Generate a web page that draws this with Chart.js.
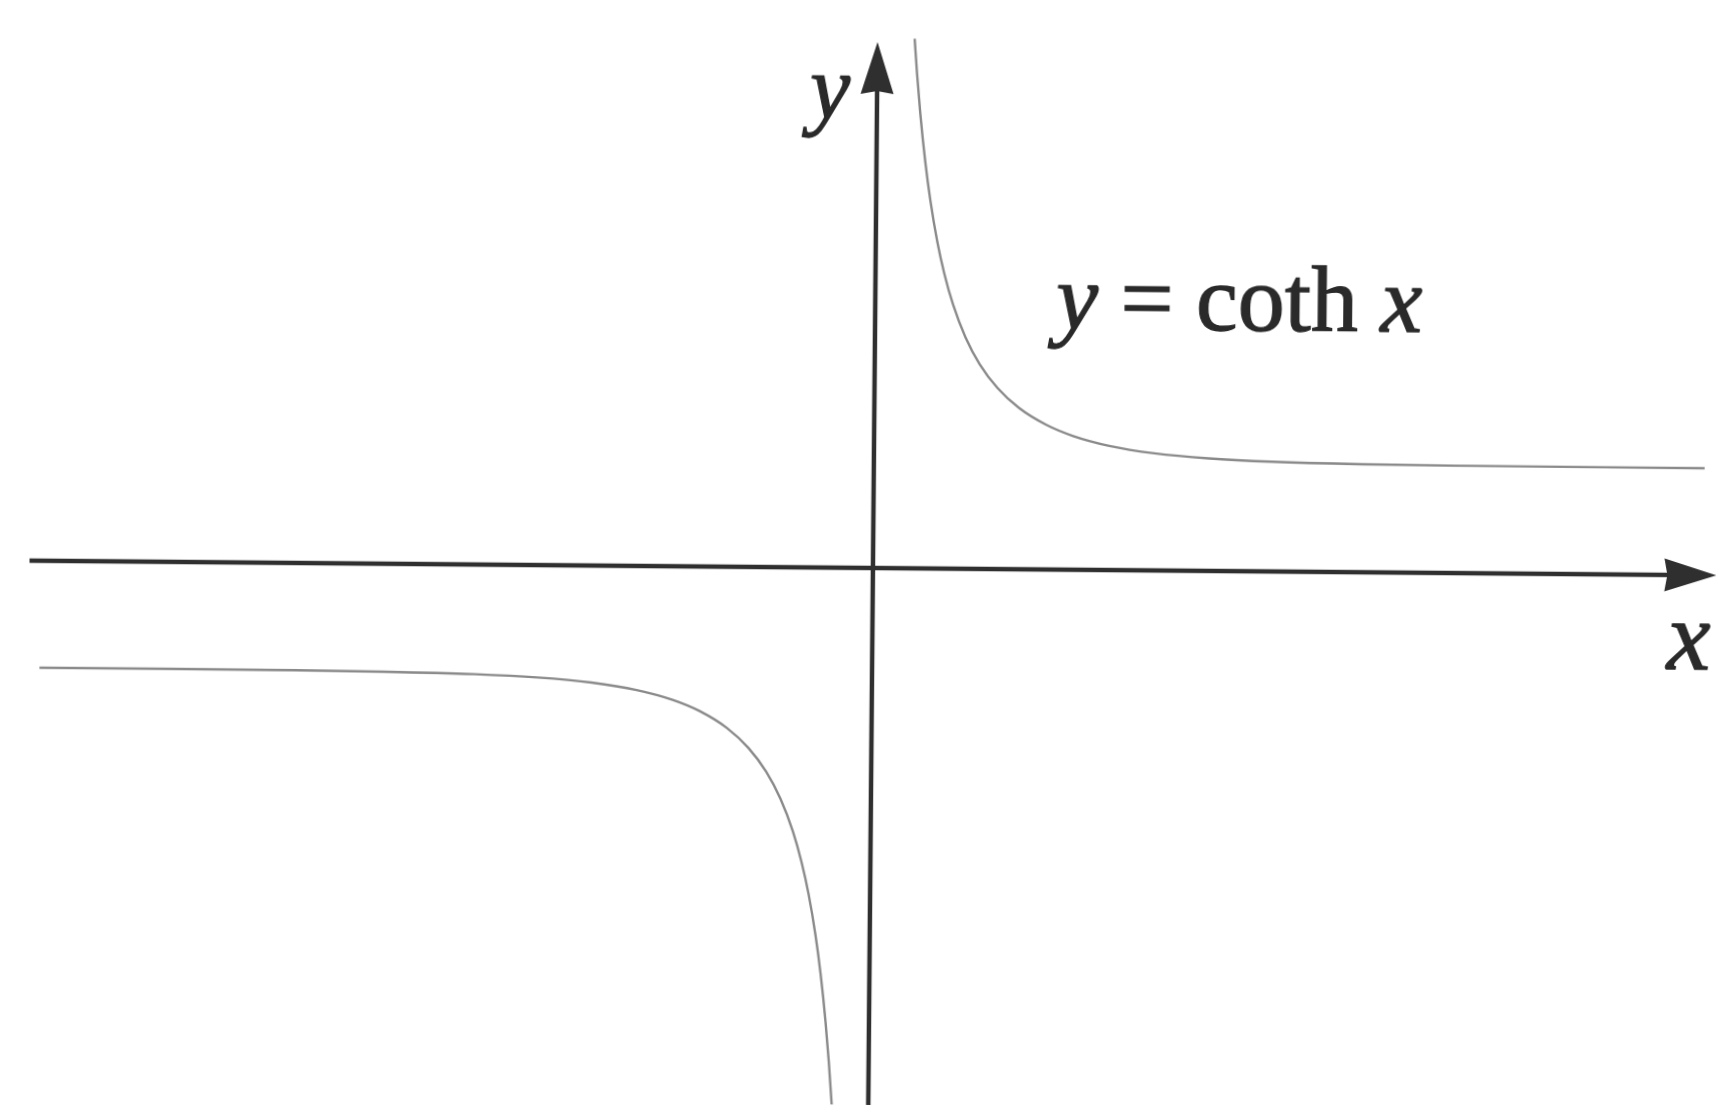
<!DOCTYPE html>
<html>
<head>
<meta charset="utf-8">
<title>y = coth x</title>
<script src="https://cdn.jsdelivr.net/npm/chart.js@4/dist/chart.umd.min.js"></script>
<style>
  html, body { margin: 0; padding: 0; background: #ffffff; overflow: hidden; }
  #wrap { position: absolute; left: 0; top: 0; width: 1724px; height: 1105px;
          transform-origin: 873px 568px; transform: rotate(0.5deg); }
  canvas { display: block; }
</style>
</head>
<body>
<div id="wrap"><canvas id="plot" width="1724" height="1105"></canvas></div>
<script>
// Right-hand branch of y = coth x (x > 0)
const upperX = [0.205, 0.22, 0.24, 0.27, 0.30, 0.34, 0.38, 0.43, 0.50, 0.58, 0.68, 0.80,
                0.95, 1.10, 1.30, 1.55, 1.85, 2.20, 2.70, 3.30, 4.00, 4.59];
const upperY = [4.95, 4.619, 4.246, 3.794, 3.433, 3.053, 2.757, 2.467, 2.164, 1.913, 1.691, 1.506,
                1.352, 1.249, 1.160, 1.094, 1.051, 1.025, 1.009, 1.0027, 1.0007, 1.0002];

// Left-hand branch (x < 0), runs off the bottom edge
const lowerX = [-4.60, -4.00, -3.30, -2.70, -2.20, -1.85, -1.55, -1.30, -1.10, -0.95, -0.80, -0.68,
                -0.58, -0.50, -0.43, -0.38, -0.34, -0.30, -0.27, -0.24, -0.22, -0.20, -0.185];
const lowerY = [-1.0002, -1.0007, -1.0027, -1.009, -1.025, -1.051, -1.094, -1.160, -1.249, -1.352, -1.506, -1.691,
                -1.913, -2.164, -2.467, -2.757, -3.053, -3.433, -3.794, -4.246, -4.619, -5.066, -5.467];

// Axis extents (arrow tips at the positive ends)
const xAxisFrom = -4.66, xAxisTo = 4.66;
const yAxisFrom = -5.6,  yAxisTo = 4.916;

// Text placed on the plot
const eqParts = [
  { text: 'y', italic: true },
  { text: '=', italic: false },
  { text: 'coth', italic: false },
  { text: 'x', italic: true }
];
const eqAnchor = [1.0, 2.252];
const yLabel = 'y', yLabelAt = [-0.37, 4.2];
const xLabel = 'x', xLabelAt = [4.39, -0.879];

const pts = (xs, ys) => xs.map((x, i) => ({ x: x, y: ys[i] }));

const SERIF = '"Liberation Serif", "Times New Roman", serif';
const AXIS_COLOR = '#2f2f2f';
const CURVE_COLOR = '#8a8a8a';
const TEXT_COLOR = '#2a2a2a';

function inkText(ctx, text, x, y) {
  ctx.fillText(text, x, y);
  ctx.strokeText(text, x, y);
}

const axesPlugin = {
  id: 'arrowAxes',
  beforeDatasetsDraw(chart) {
    const ctx = chart.ctx;
    const sx = chart.scales.x, sy = chart.scales.y;
    const x0 = sx.getPixelForValue(0), y0 = sy.getPixelForValue(0);
    ctx.save();
    ctx.strokeStyle = AXIS_COLOR;
    ctx.fillStyle = AXIS_COLOR;
    ctx.lineWidth = 4.5;
    ctx.lineCap = 'butt';
    ctx.lineJoin = 'miter';

    const headLen = 52, headHalf = 16.5;

    // horizontal axis
    const xl = sx.getPixelForValue(xAxisFrom), xr = sx.getPixelForValue(xAxisTo);
    ctx.beginPath();
    ctx.moveTo(xl, y0);
    ctx.lineTo(xr - headLen + 4, y0);
    ctx.stroke();
    ctx.beginPath();
    ctx.moveTo(xr, y0);
    ctx.lineTo(xr - headLen, y0 - headHalf);
    ctx.lineTo(xr - headLen + 3, y0);
    ctx.lineTo(xr - headLen, y0 + headHalf);
    ctx.closePath();
    ctx.fill();

    // vertical axis
    const yb = sy.getPixelForValue(yAxisFrom), yt = sy.getPixelForValue(yAxisTo);
    ctx.beginPath();
    ctx.moveTo(x0, yb);
    ctx.lineTo(x0, yt + headLen - 4);
    ctx.stroke();
    ctx.beginPath();
    ctx.moveTo(x0, yt);
    ctx.lineTo(x0 - headHalf, yt + headLen);
    ctx.lineTo(x0, yt + headLen - 3);
    ctx.lineTo(x0 + headHalf, yt + headLen);
    ctx.closePath();
    ctx.fill();
    ctx.restore();
  },
  afterDatasetsDraw(chart) {
    const ctx = chart.ctx;
    const sx = chart.scales.x, sy = chart.scales.y;
    ctx.save();
    ctx.fillStyle = TEXT_COLOR;
    ctx.strokeStyle = TEXT_COLOR;
    ctx.lineWidth = 1.3;
    ctx.textBaseline = 'alphabetic';
    ctx.textAlign = 'left';

    // equation label
    const size = 94;
    let px = sx.getPixelForValue(eqAnchor[0]);
    const py = sy.getPixelForValue(eqAnchor[1]);
    const gap = 0.24 * size;
    eqParts.forEach((p) => {
      ctx.font = (p.italic ? 'italic ' : '') + size + 'px ' + SERIF;
      inkText(ctx, p.text, px, py);
      px += ctx.measureText(p.text).width + gap;
    });

    // axis names
    ctx.font = 'italic 90px ' + SERIF;
    inkText(ctx, yLabel, sx.getPixelForValue(yLabelAt[0]), sy.getPixelForValue(yLabelAt[1]));
    ctx.font = 'italic 98px ' + SERIF;
    inkText(ctx, xLabel, sx.getPixelForValue(xLabelAt[0]), sy.getPixelForValue(xLabelAt[1]));
    ctx.restore();
  }
};

const branchStyle = {
  showLine: true,
  borderColor: CURVE_COLOR,
  borderWidth: 2.4,
  pointRadius: 0,
  pointHoverRadius: 0,
  fill: false,
  cubicInterpolationMode: 'monotone'
};

new Chart(document.getElementById('plot'), {
  type: 'scatter',
  data: {
    datasets: [
      Object.assign({ label: 'coth x (x > 0)', data: pts(upperX, upperY) }, branchStyle),
      Object.assign({ label: 'coth x (x < 0)', data: pts(lowerX, lowerY) }, branchStyle)
    ]
  },
  options: {
    responsive: false,
    animation: false,
    events: [],
    layout: { padding: 0 },
    plugins: { legend: { display: false }, tooltip: { enabled: false }, title: { display: false } },
    scales: {
      x: { type: 'linear', min: -4.823, max: 4.702, display: false },
      y: { type: 'linear', min: -5.019, max: 5.308, display: false }
    }
  },
  plugins: [axesPlugin]
});
</script>
</body>
</html>
